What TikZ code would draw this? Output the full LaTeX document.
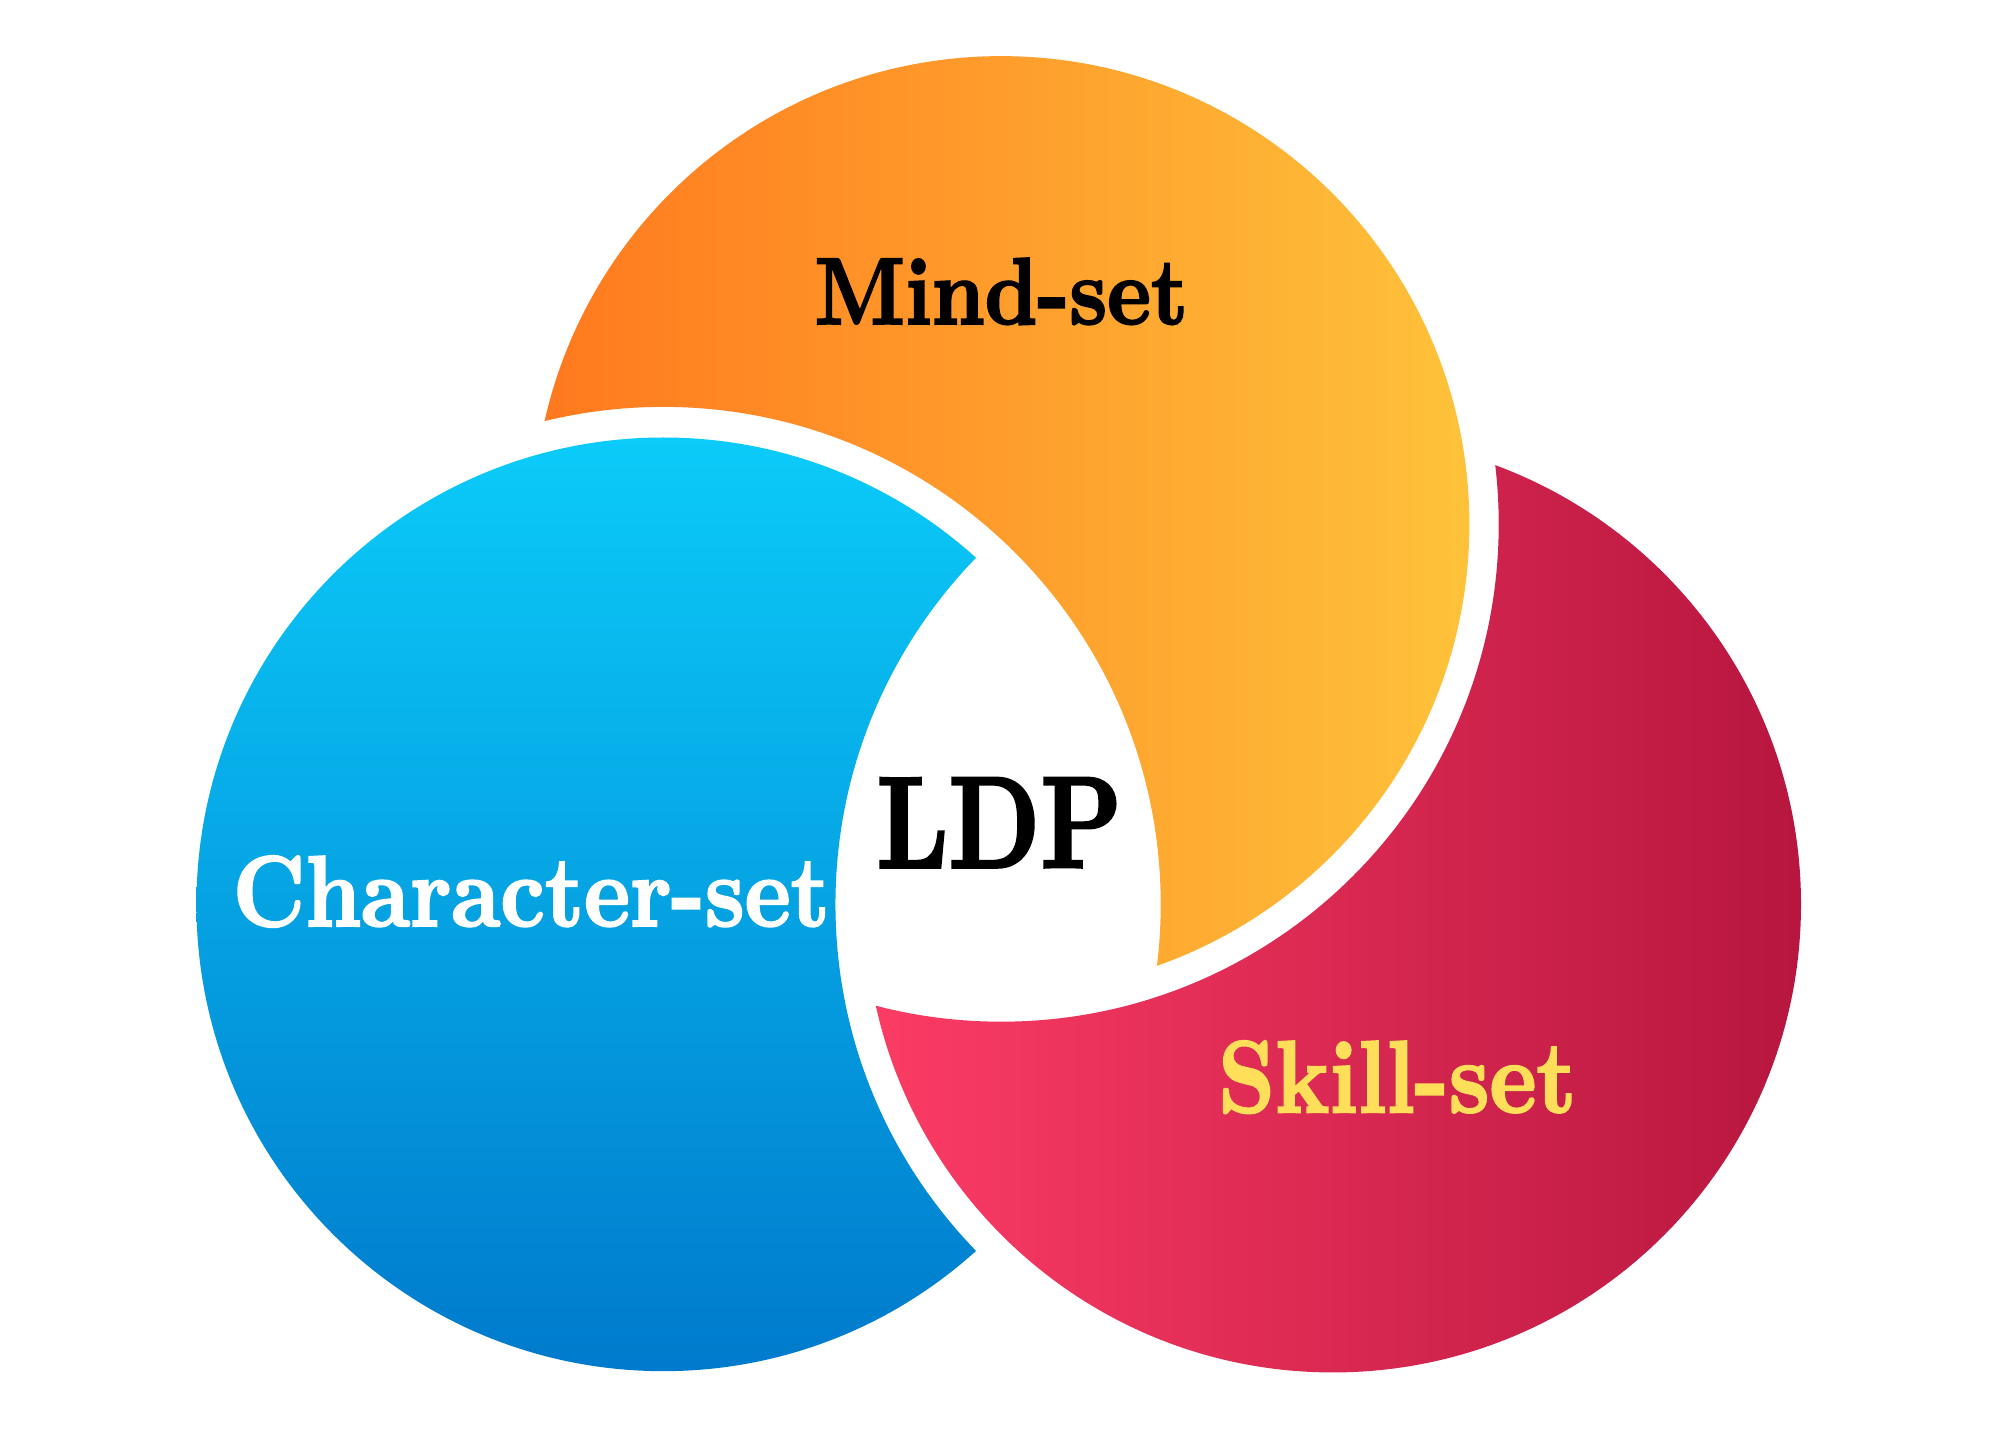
\documentclass[tikz,border=0pt]{standalone}
\usepackage{fontspec}
\newfontfamily\heavyface{lmroman10-bold.otf}[FakeBold=2.2]
\begin{document}
\begin{tikzpicture}[x=0.01cm,y=0.01cm,
  lbl/.style={inner sep=0pt, anchor=base},
  ]
\definecolor{orA}{HTML}{FF781E}
\definecolor{orB}{HTML}{FEC23A}
\definecolor{blA}{HTML}{0BCBF9}
\definecolor{blB}{HTML}{007ACC}
\definecolor{rdA}{HTML}{FC3C65}
\definecolor{rdB}{HTML}{B7163F}
\definecolor{skY}{HTML}{FFDF5A}
\useasboundingbox (0,0) rectangle (1568,1120);
\fill[white] (0,0) rectangle (1568,1120);
\coordinate (O) at (785,709);
\coordinate (B) at (520,411);
\coordinate (R) at (1045,411);
% orange, cut by blue
\begin{scope}[even odd rule]
  \clip (-10,-10) rectangle (1580,1130) (B) circle[radius=390];
  \shade[left color=orA, right color=orB] (O) circle[radius=367];
\end{scope}
% blue, cut by red
\begin{scope}[even odd rule]
  \clip (-10,-10) rectangle (1580,1130) (R) circle[radius=390];
  \shade[top color=blA, bottom color=blB] (B) circle[radius=366];
\end{scope}
% red, cut by orange
\begin{scope}[even odd rule]
  \clip (-10,-10) rectangle (1580,1130) (O) circle[radius=390];
  \shade[left color=rdA, right color=rdB] (R) circle[radius=367];
\end{scope}
\node[lbl, xscale=0.875, font=\heavyface\fontsize{21.15}{25}\selectfont, text=black] (mind) at (785,866) {Mind-set};
\node[lbl, xscale=0.87, font=\heavyface\fontsize{22.4}{26}\selectfont, text=white] (char) at (416.5,394) {Character-set};
\node[lbl, xscale=0.8, font=\heavyface\fontsize{29}{34}\selectfont, text=black] (ldp) at (783.5,440) {LDP};
\node[lbl, xscale=0.873, font=\heavyface\fontsize{22.8}{27}\selectfont, text=skY] (skill) at (1095.5,248) {Skill-set};
\end{tikzpicture}
\end{document}
